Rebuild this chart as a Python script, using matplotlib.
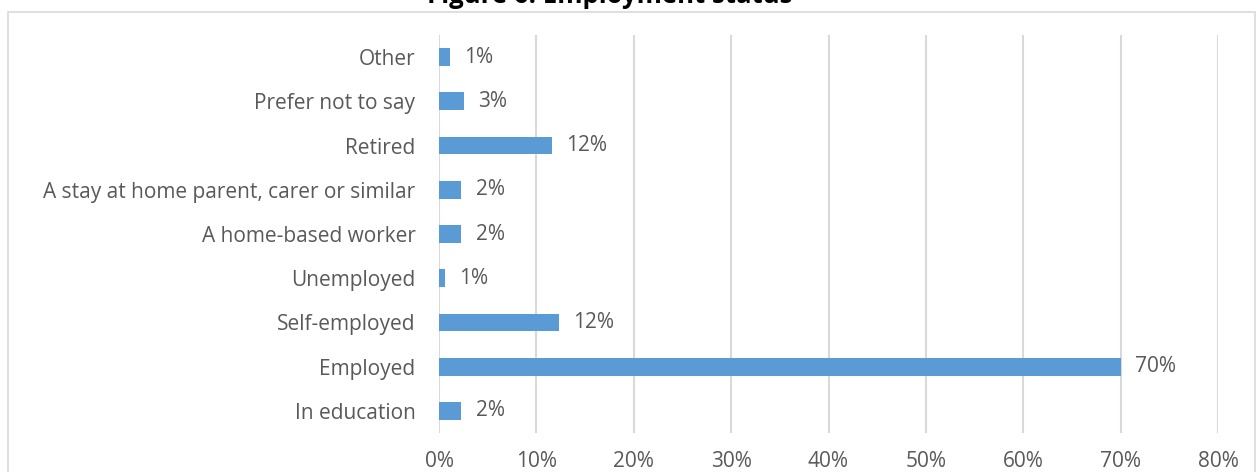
import matplotlib
matplotlib.use("Agg")
import matplotlib.pyplot as plt
from matplotlib.patches import Rectangle
from matplotlib.ticker import PercentFormatter

# employment categories, bottom to top
categories = ["In education", "Employed", "Self-employed", "Unemployed",
              "A home-based worker", "A stay at home parent, carer or similar",
              "Retired", "Prefer not to say", "Other"]
shares = [2.3, 70.0, 12.3, 0.6, 2.3, 2.3, 11.6, 2.6, 1.1]
xticks = [0, 10, 20, 30, 40, 50, 60, 70, 80]

plt.rcParams['font.family'] = ['Open Sans', 'DejaVu Sans']
grey = "#595959"

fig = plt.figure(figsize=(12.56, 4.72), dpi=100)
ax = fig.add_axes([439/1256, 1-433/472, (1218-439)/1256, (433-35)/472])

ypos = list(range(len(categories)))
ax.barh(ypos, shares, height=0.4, color="#5b9bd5", zorder=3)
for y, v in zip(ypos, shares):
	ax.text(v + 1.45, y, "%d%%" % round(v), va="center", ha="left",
			fontsize=15, color=grey)

ax.set_xlim(0, 80)
ax.set_ylim(-0.5, len(categories) - 0.5)
ax.set_xticks(xticks)
ax.xaxis.set_major_formatter(PercentFormatter(decimals=0))
ax.set_yticks(ypos)
ax.set_yticklabels(categories)
ax.tick_params(axis="both", length=0, labelsize=15, labelcolor=grey)
ax.tick_params(axis="y", pad=17)
ax.tick_params(axis="x", pad=13)
ax.grid(axis="x", color="#d9d9d9", linewidth=1.5, zorder=0)
for s in ax.spines.values():
	s.set_visible(False)

# outer chart frame
fig.patches.append(Rectangle((8/1256, -0.1), (1255-8)/1256, 1.1 - 12/472,
                             transform=fig.transFigure, fill=False,
                             edgecolor="#d9d9d9", linewidth=1.2))

fig.text(610/1256, 1-3/472, "Figure 6: Employment status", ha="center",
		 va="baseline", fontsize=18.5, fontweight="bold", color="black")

fig.savefig("out.png", dpi=100)
